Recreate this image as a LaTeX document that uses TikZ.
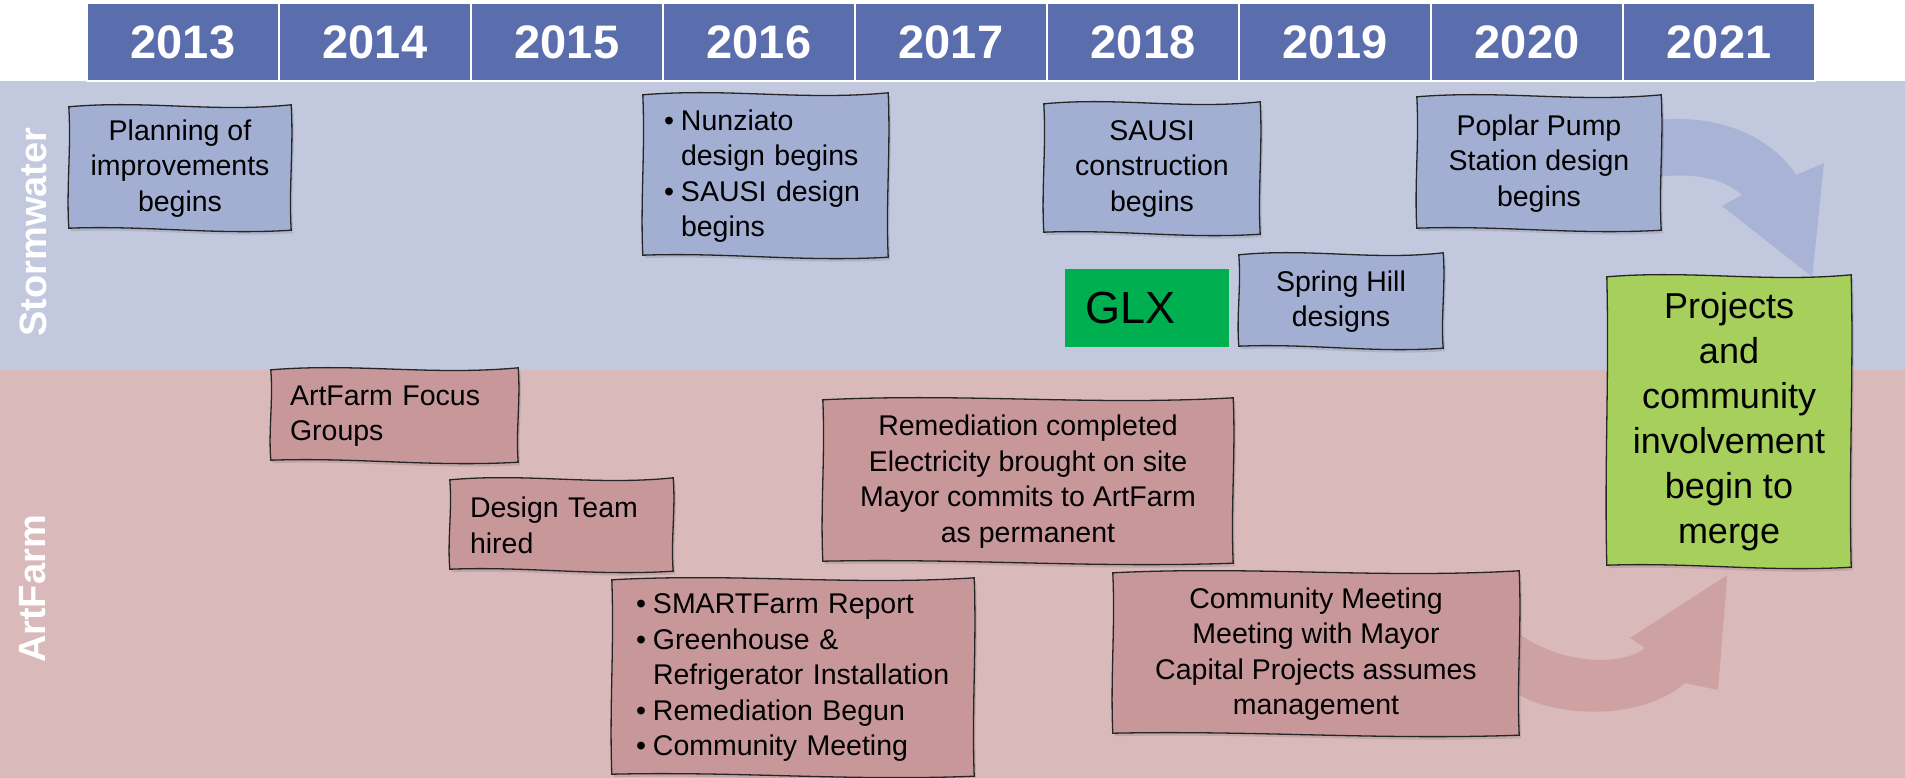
\documentclass[tikz,border=0pt]{standalone}
\usepackage{fontspec}
\setmainfont{Liberation Sans}
\usetikzlibrary{calc}
\definecolor{hdr}{HTML}{5A6DAD}
\definecolor{swband}{HTML}{C2C9DF}
\definecolor{afband}{HTML}{D9B9B9}
\definecolor{swbox}{HTML}{A3AFD2}
\definecolor{afbox}{HTML}{C8979A}
\definecolor{mergegreen}{HTML}{A6CF5B}
\definecolor{glxgreen}{HTML}{00B050}
\definecolor{swarrow}{HTML}{A8B3D5}
\definecolor{afarrow}{HTML}{CEA1A3}
\pgfdeclarelayer{bg}\pgfdeclarelayer{boxes}\pgfsetlayers{bg,boxes,main}
\newcommand\mybul{\makebox[17pt][l]{\textbullet}}
\newcommand\myind{\hspace*{17pt}}
\newcommand\wavypath[1]{(#1.north west)
  .. controls ($(#1.north west)!0.35!(#1.north east)+(0,-7)$) and ($(#1.north west)!0.65!(#1.north east)+(0,6)$) .. ($(#1.north east)+(0,-2)$)
  .. controls ($(#1.north east)!0.35!(#1.south east)+(2.5,0)$) and ($(#1.north east)!0.65!(#1.south east)+(-2.5,0)$) .. (#1.south east)
  .. controls ($(#1.south east)!0.35!(#1.south west)+(0,5)$) and ($(#1.south east)!0.65!(#1.south west)+(0,-5)$) .. ($(#1.south west)+(0,-2)$)
  .. controls ($(#1.south west)!0.35!(#1.north west)+(-2.5,0)$) and ($(#1.south west)!0.65!(#1.north west)+(2.5,0)$) .. cycle}
\newcommand\wavyframe[2]{%
  \begin{pgfonlayer}{boxes}
  \path[fill=black, fill opacity=0.10, transform canvas={xshift=2pt,yshift=-3pt}] \wavypath{#1};
  \path[boxline, fill=#2] \wavypath{#1};
  \end{pgfonlayer}}
\begin{document}
\begin{tikzpicture}[x=1pt,y=-1pt,
  yearcell/.style={draw=white, line width=2pt, fill=hdr, minimum width=192pt, minimum height=78pt,
    inner sep=0pt, text=white, font=\fontsize{47}{50}\selectfont\bfseries},
  lanelabel/.style={rotate=90, text=white, font=\fontsize{38}{40}\selectfont\bfseries},
  boxtext/.style={inner sep=0pt, text=black, font=\fontsize{28.5}{35.5}\selectfont},
  cbox/.style={boxtext, align=center},
  lbox/.style={boxtext, align=left},
  boxline/.style={draw=black!85, line width=1.3pt}]
\useasboundingbox (0,0) rectangle (1905,778);
% bands
\begin{pgfonlayer}{bg}
\fill[white] (0,0) rectangle (1905,81);
\fill[swband] (0,81) rectangle (1905,370);
\fill[afband] (0,370) rectangle (1905,778);
\end{pgfonlayer}
% header
\foreach \yr [count=\i from 0] in {2013,2014,2015,2016,2017,2018,2019,2020,2021}
  \node[yearcell] (y\yr) at (183+192*\i,42) {\yr};
% lane labels
\node[lanelabel] (swlabel) at (33,232) {Stormwater};
\node[lanelabel] (aflabel) at (33,589) {ArtFarm};
% stormwater boxes
\node[cbox, minimum width=222pt, minimum height=123pt] (plan) at (180,168.5)
  {Planning of\\improvements\\begins};
\node[lbox, text width=203pt, inner xsep=21pt, minimum height=162pt] (nunz) at (765.5,176)
  {\mybul Nunziato\\\myind design begins\\\mybul SAUSI design\\\myind begins};
\node[cbox, minimum width=216pt, minimum height=130pt] (sausi) at (1152,169)
  {SAUSI\\construction\\begins};
\node[cbox, minimum width=244pt, minimum height=133pt] (poplar) at (1539,163.5)
  {Poplar Pump\\Station design\\begins};
\node[boxtext, fill=glxgreen, text width=124pt, inner xsep=20pt, minimum height=78pt, align=left,
  font=\fontsize{45}{50}\selectfont] (glx) at (1147,308) {GLX};
\node[cbox, minimum width=204pt, minimum height=93pt] (spring) at (1341,301.5)
  {Spring Hill\\designs};
\node[cbox, minimum width=244pt, minimum height=290pt, font=\fontsize{36}{45}\selectfont] (merge) at (1729,422)
  {Projects\\and\\community\\involvement\\begin to\\merge};
% artfarm boxes
\node[lbox, text width=209pt, inner xsep=19pt, minimum height=92pt] (focus) at (394.5,416)
  {ArtFarm Focus\\Groups};
\node[lbox, text width=183pt, inner xsep=20pt, minimum height=91pt] (design) at (561.5,525.5)
  {Design Team\\hired};
\node[cbox, minimum width=410pt, minimum height=163pt] (remed) at (1028,481.5)
  {Remediation completed\\Electricity brought on site\\Mayor commits to ArtFarm\\as permanent};
\node[lbox, text width=314pt, inner xsep=24pt, minimum height=196pt] (smart) at (793,678)
  {\mybul SMARTFarm Report\\\mybul Greenhouse \&\\\myind Refrigerator Installation\\\mybul Remediation Begun\\\mybul Community Meeting};
\node[cbox, minimum width=406pt, minimum height=162pt] (commu) at (1316,654)
  {Community Meeting\\Meeting with Mayor\\Capital Projects assumes\\management};
% wavy frames
\wavyframe{plan}{swbox}
\wavyframe{nunz}{swbox}
\wavyframe{sausi}{swbox}
\wavyframe{poplar}{swbox}
\wavyframe{spring}{swbox}
\wavyframe{merge}{mergegreen}
\wavyframe{focus}{afbox}
\wavyframe{design}{afbox}
\wavyframe{remed}{afbox}
\wavyframe{smart}{afbox}
\wavyframe{commu}{afbox}
% block arrows
\coordinate (swA) at ($(poplar.east)+(-8,-43)$);
\coordinate (swG) at ($(poplar.east)+(-8,13.5)$);
\coordinate (swTip) at ($(merge.north east)+(-39,0)$);
\coordinate (afT) at ($(commu.east)+(-8,-26)$);
\coordinate (afS) at ($(commu.east)+(-8,36)$);
\coordinate (afTip) at ($(merge.south east)+(-124,8)$);
\begin{pgfonlayer}{bg}
\fill[swarrow] (swA) .. controls (1722,112) and (1774,140) .. (1796,175)
  -- (1824,163) -- (swTip) -- (1722,206) -- (1742,195)
  .. controls (1725,180) and (1700,172) .. (swG) -- cycle;
\fill[afarrow] (afS) .. controls (1550,718) and (1640,722) .. (1685,683)
  -- (1718,690) -- (afTip) -- (1630,638) -- (1645,648)
  .. controls (1625,665) and (1560,668) .. (afT) -- cycle;
\end{pgfonlayer}
\end{tikzpicture}
\end{document}
